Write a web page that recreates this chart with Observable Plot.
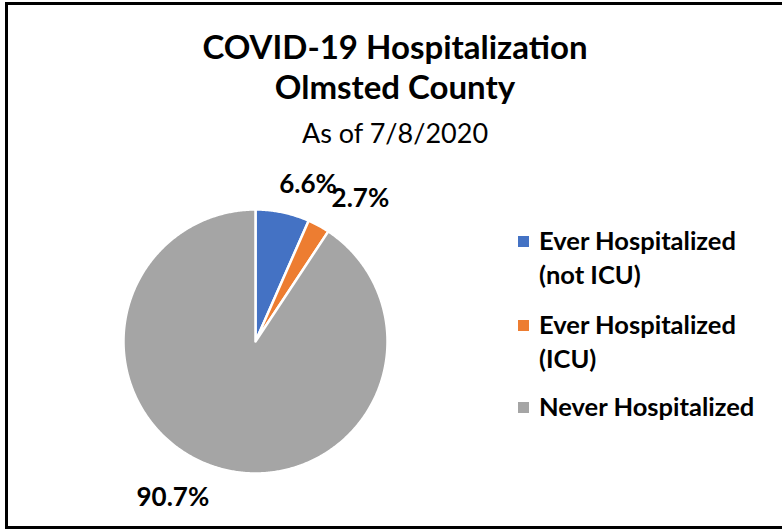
<!DOCTYPE html>
<html>
<head>
<meta charset="utf-8">
<script src="https://cdn.jsdelivr.net/npm/d3@7"></script>
<script src="https://cdn.jsdelivr.net/npm/@observablehq/plot@0.6"></script>
<style>
  html, body { margin: 0; padding: 0; background: #fff; overflow: hidden; }
  #root { position: relative; width: 782px; height: 529px; overflow: hidden; font-family: Lato, "Open Sans", sans-serif; color: #000; }
  #frame { position: absolute; left: 5px; top: 2px; width: 820px; height: 521px; border: 3px solid #000; border-right: none; box-sizing: content-box; }
  .title { position: absolute; left: 4px; width: 782px; text-align: center; white-space: nowrap; line-height: 1; }
  #pie { position: absolute; left: 55px; top: 171px; }
  .leg { position: absolute; left: 518px; font-weight: bold; font-size: 25.5px; line-height: 34px; white-space: nowrap; }
  .sw { position: absolute; width: 11px; height: 11px; }
  .lt { position: absolute; left: 21px; top: 0; }
</style>
</head>
<body>
<div id="root">
  <div id="frame"></div>
  <div class="title" id="t1" style="top:30px;font-size:33px;font-weight:bold;"></div>
  <div class="title" id="t2" style="top:70px;font-size:33px;font-weight:bold;"></div>
  <div class="title" id="t3" style="top:119px;font-size:27px;"></div>
  <div id="pie"></div>
  <div id="legend"></div>
</div>
<script>
// ---- data ----
const categories = ["Ever Hospitalized (not ICU)", "Ever Hospitalized (ICU)", "Never Hospitalized"];
const values = [6.6, 2.7, 90.7];
const valueLabels = ["6.6%", "2.7%", "90.7%"];
const legendLines = [["Ever Hospitalized", "(not ICU)"], ["Ever Hospitalized", "(ICU)"], ["Never Hospitalized"]];
const colors = ["#4472C4", "#ED7D31", "#A5A5A5"];
const titleLines = ["COVID-19 Hospitalization", "Olmsted County"];
const subtitle = "As of 7/8/2020";

// ---- styling constants (label nudges in px, like Excel's best-fit) ----
const labelRadius = 1.2;
const labelNudges = [[20, -2], [29, -4], [-37, 4]];

document.getElementById("t1").textContent = titleLines[0];
document.getElementById("t2").textContent = titleLines[1];
document.getElementById("t3").textContent = subtitle;

// ---- build slices ----
const total = d3.sum(values);
let acc = 0;
const slices = values.map((v, i) => {
  const a0 = acc / total * 2 * Math.PI;
  acc += v;
  const a1 = acc / total * 2 * Math.PI;
  return {cat: categories[i], a0, a1, mid: (a0 + a1) / 2, label: valueLabels[i]};
});
const pts = [];
for (const s of slices) {
  pts.push({cat: s.cat, x: 0, y: 0});
  const n = Math.max(2, Math.ceil((s.a1 - s.a0) / (Math.PI / 360)));
  for (let k = 0; k <= n; k++) {
    const t = s.a0 + (s.a1 - s.a0) * k / n;
    pts.push({cat: s.cat, x: Math.sin(t), y: Math.cos(t)});
  }
  pts.push({cat: s.cat, x: 0, y: 0});
}
const labelData = slices.map(s => ({text: s.label, x: labelRadius * Math.sin(s.mid), y: labelRadius * Math.cos(s.mid)}));

const chart = Plot.plot({
  width: 400,
  height: 358,
  marginLeft: 68, marginRight: 68, marginTop: 38, marginBottom: 56,
  x: {domain: [-1, 1], axis: null},
  y: {domain: [-1, 1], axis: null},
  color: {domain: categories, range: colors},
  style: {background: "transparent", overflow: "visible"},
  marks: [
    Plot.line(pts, {x: "x", y: "y", z: "cat", fill: "cat", stroke: "white", strokeWidth: 2.5, strokeLinejoin: "round"}),
    ...labelData.map((d, i) => Plot.text([d], {
      x: "x", y: "y", text: "text", dx: labelNudges[i][0], dy: labelNudges[i][1],
      fontSize: 26, fontWeight: "bold", fontFamily: "Lato, 'Open Sans', sans-serif", fill: "black"
    }))
  ]
});
document.getElementById("pie").appendChild(chart);

// ---- legend ----
const legTops = [223, 307, 389];
const legend = document.getElementById("legend");
categories.forEach((c, i) => {
  const g = document.createElement("div");
  g.className = "leg";
  g.style.top = legTops[i] + "px";
  const sw = document.createElement("div");
  sw.className = "sw";
  sw.style.background = colors[i];
  sw.style.top = "13px";
  g.appendChild(sw);
  const t = document.createElement("div");
  t.className = "lt";
  t.innerHTML = legendLines[i].join("<br>");
  g.appendChild(t);
  legend.appendChild(g);
});
</script>
</body>
</html>
